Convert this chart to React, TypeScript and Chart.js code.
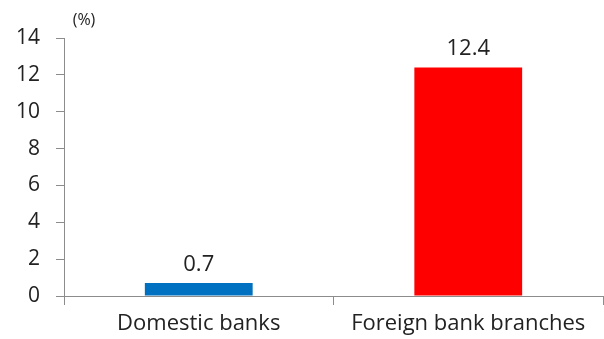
import React, { useEffect, useRef } from "react";
import { Chart, registerables } from "chart.js";

Chart.register(...registerables);

const categories = ["Domestic banks", "Foreign bank branches"];
const values = [0.7, 12.4];
const barColors = ["#0070C0", "#FF0000"];
const yTicks = [0, 2, 4, 6, 8, 10, 12, 14];
const unitLabel = "(%)";

const FONT = "'Open Sans', 'Liberation Sans', sans-serif";
const TEXT = "#222222";
const AXIS = "#8c8c8c";

export default function App() {
  const ref = useRef<HTMLCanvasElement | null>(null);
  useEffect(() => {
    document.body.style.margin = "0";
    const canvas = ref.current;
    if (!canvas) return;
    const labelPlugin = {
      id: "valueLabels",
      afterDatasetsDraw(chart: any) {
        const ctx = chart.ctx;
        ctx.save();
        const meta = chart.getDatasetMeta(0);
        ctx.fillStyle = TEXT;
        ctx.font = `22px ${FONT}`;
        ctx.textAlign = "center";
        ctx.textBaseline = "alphabetic";
        meta.data.forEach((bar: any, i: number) => {
          ctx.fillText(String(values[i]), bar.x, bar.y - 12);
        });
        const ys = chart.scales.y;
        ctx.font = `16px ${FONT}`;
        ctx.textBaseline = "middle";
        ctx.fillText(unitLabel, chart.chartArea.left + 20, ys.getPixelForValue(14) - 18);
        ctx.restore();
      },
    };
    const chart = new Chart(canvas, {
      type: "bar",
      data: {
        labels: categories,
        datasets: [
          {
            data: values,
            backgroundColor: barColors,
            borderWidth: 0,
            categoryPercentage: 0.4,
            barPercentage: 1,
          },
        ],
      },
      options: {
        animation: false,
        responsive: false,
        maintainAspectRatio: false,
        layout: { padding: { top: 38, right: 1, left: 0, bottom: 0 } },
        plugins: {
          legend: { display: false },
          tooltip: { enabled: false },
        },
        scales: {
          x: {
            offset: true,
            grid: {
              offset: true,
              drawOnChartArea: false,
              drawTicks: true,
              tickLength: 9,
              color: AXIS,
            },
            border: { color: AXIS, width: 1 },
            ticks: {
              color: TEXT,
              font: { family: FONT, size: 22 },
              padding: 6,
            },
            afterFit(scale: any) {
              scale.height = 43;
            },
          },
          y: {
            min: 0,
            max: 14,
            afterBuildTicks(scale: any) {
              scale.ticks = yTicks.map((v) => ({ value: v }));
            },
            grid: {
              drawOnChartArea: false,
              drawTicks: true,
              tickLength: 8,
              color: AXIS,
            },
            border: { color: AXIS, width: 1 },
            ticks: {
              color: TEXT,
              font: { family: FONT, size: 21 },
              padding: 16,
            },
            afterFit(scale: any) {
              scale.width = 64;
            },
          },
        },
      },
      plugins: [labelPlugin],
    });
    return () => chart.destroy();
  }, []);
  return (
    <div style={{ position: "absolute", left: 0, top: 0, width: 604, height: 339, background: "#fff" }}>
      <canvas ref={ref} width={604} height={339} style={{ width: 604, height: 339 }} />
    </div>
  );
}
